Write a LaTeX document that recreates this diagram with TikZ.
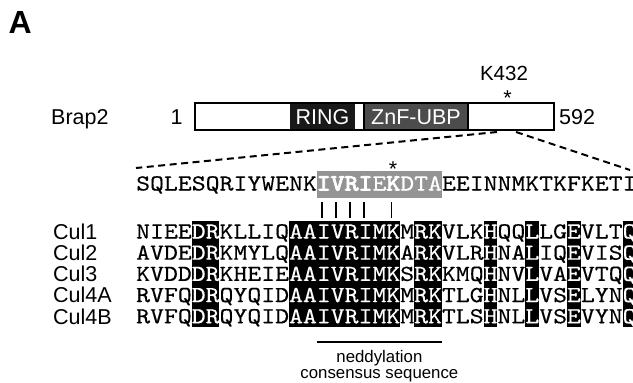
\documentclass[tikz,border=0pt]{standalone}
\usepackage{fontspec}
\setsansfont{Liberation Sans}
% Courier-like serif mono, widened so one residue is 13.9 units wide
\newfontfamily\seqfont{lmmono10-regular.otf}[FakeStretch=1.151,FakeBold=0.3]
\newfontfamily\seqbold{lmmono10-regular.otf}[FakeStretch=1.151,FakeBold=4]
\definecolor{ringfill}{gray}{0.1}
\definecolor{znffill}{gray}{0.3}
\definecolor{boxgray}{gray}{0.58}
\newcommand{\wt}[1]{{\color{white}#1}}
\newcommand{\wb}[1]{{\seqbold\color{white}#1}}

\tikzset{
  lab/.style={font=\sffamily\fontsize{21.5}{25}\selectfont, inner sep=0pt, anchor=base west},
  labc/.style={font=\sffamily\fontsize{21.5}{25}\selectfont, inner sep=0pt, anchor=base},
  small/.style={font=\sffamily\fontsize{16.8}{20}\selectfont, inner sep=0pt, anchor=base},
  seq/.style={font=\seqfont\fontsize{23}{26}\selectfont, inner sep=0pt, anchor=base west},
  zoomline/.style={line width=2pt, dash pattern=on 7pt off 4.5pt},
  tick/.style={line width=1.6pt},
}

\begin{document}
\begin{tikzpicture}[x=1pt, y=-1pt]
\useasboundingbox (0,0) rectangle (633,383);

% panel letter
\node[font=\sffamily\bfseries\fontsize{32}{36}\selectfont, inner sep=0pt, anchor=base west] (panel) at (8.5,33) {A};

% Brap2 domain bar
\fill[white] (195,103) rectangle (554,130);
\fill[ringfill] (290,103) rectangle (355,130);
\fill[znffill] (364,103) rectangle (468,130);
\draw[line width=1.6pt] (364,103) rectangle (468,130);
\draw[line width=2.4pt] (195,103) rectangle (554,130);
\node[lab] (brap) at (51,124) {Brap2};
\node[labc] (first) at (176.5,124) {1};
\node[lab] (last) at (559,124) {592};
\node[labc, text=white] (ring) at (322.5,124) {RING};
\node[labc, text=white] (znf) at (416,124) {ZnF-UBP};
\node[font=\sffamily\fontsize{20.5}{24}\selectfont, inner sep=0pt, anchor=base] (k432) at (504,80) {K432};
\node[labc] (kstar) at (507.5,105) {*};

% zoom lines from the bar to the sequence
\coordinate (zl1) at (497,132);
\coordinate (zl2) at (136,168);
\coordinate (zr1) at (516,132);
\coordinate (zr2) at (630,170);
\draw[zoomline] (zl1) -- (zl2);
\draw[zoomline] (zr1) -- (zr2);

% Brap2 sequence with highlighted motif (columns 14-22)
\fill[boxgray] ({136+13*13.9},171) rectangle ({136+22*13.9},198);
\node[seq] (brapseq) at (136,190.5) {SQLESQRIYWENK\wb{IVRI}\wt{E}\wb{K}\wt{DTA}EEINNMKTKFKETI};
\node[labc] (seqstar) at ({136+18.5*13.9},176) {*};

% ticks linking conserved residues
\foreach \c in {14,15,16,17,19}
  \draw[tick] ({136+(\c-0.5)*13.9-1.5},202) -- ({136+(\c-0.5)*13.9-1.5},218);

% conserved columns of the cullin alignment
\foreach \a/\b in {5/6,12/19,21/22,26/26,29/29,32/32,36/36}
  \fill[black] ({136+(\a-1)*13.9},221) rectangle ({136+\b*13.9},327);

% cullin labels and sequences
\node[lab] (c1) at (53,239.2) {Cul1};
\node[lab] (c2) at (53,260.4) {Cul2};
\node[lab] (c3) at (53,281.6) {Cul3};
\node[lab] (c4a) at (53,302.8) {Cul4A};
\node[lab] (c4b) at (53,324.0) {Cul4B};

\node[seq] (s1) at (136,238.5) {NIEE\wt{DR}KLLIQ\wt{AAIVRIMK}M\wt{RK}VLK\wt{H}QQ\wt{L}LG\wt{E}VLT\wt{Q}};
\node[seq] (s2) at (136,259.7) {AVDE\wt{DR}KMYLQ\wt{AAIVRIMK}A\wt{RK}VLR\wt{H}NA\wt{L}IQ\wt{E}VIS\wt{Q}};
\node[seq] (s3) at (136,280.9) {KVDD\wt{DR}KHEIE\wt{AAIVRIMK}S\wt{RK}KMQ\wt{H}NV\wt{L}VA\wt{E}VTQ\wt{Q}};
\node[seq] (s4) at (136,302.1) {RVFQ\wt{DR}QYQID\wt{AAIVRIMK}M\wt{RK}TLG\wt{H}NL\wt{L}VS\wt{E}LYN\wt{Q}};
\node[seq] (s5) at (136,323.3) {RVFQ\wt{DR}QYQID\wt{AAIVRIMK}M\wt{RK}TLS\wt{H}NL\wt{L}VS\wt{E}VYN\wt{Q}};

% neddylation consensus bracket
\coordinate (n1) at ({136+13*13.9},341.7);
\coordinate (n2) at ({136+22*13.9},341.7);
\draw[line width=2pt] (n1) -- (n2);
\node[small] (ned) at (379.4,362) {neddylation};
\node[small] (cons) at (379.4,378) {consensus sequence};
\end{tikzpicture}
\end{document}
